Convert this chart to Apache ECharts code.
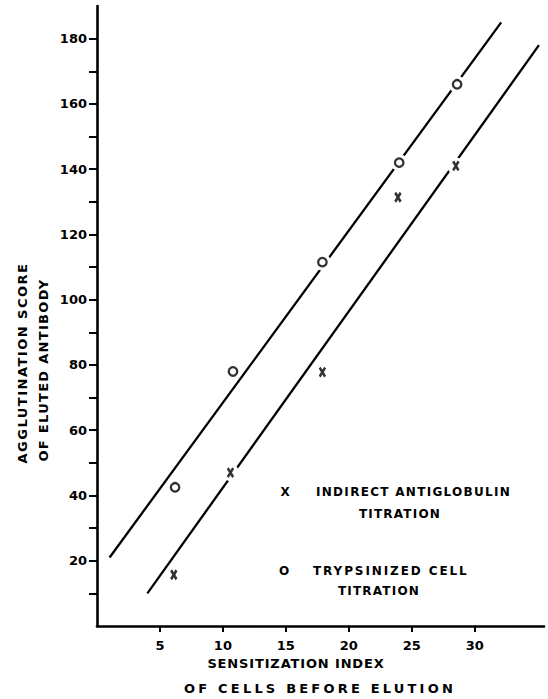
<!DOCTYPE html>
<html>
<head>
<meta charset="utf-8">
<style>html,body{margin:0;padding:0;background:#fff;}#c{width:548px;height:699px;}</style>
<script src="https://cdn.jsdelivr.net/npm/echarts@6/dist/echarts.min.js"></script>
</head>
<body>
<div id="c"></div>
<script>
// ---- data ----
var xTicks = [5, 10, 15, 20, 25, 30];
var yTicks = [10, 20, 30, 40, 50, 60, 70, 80, 90, 100, 110, 120, 130, 140, 150, 160, 170, 180];
var yLabels = [20, 40, 60, 80, 100, 120, 140, 160, 180];

// Indirect antiglobulin titration (X)
var antiglobulinX = [6.1, 10.6, 17.9, 23.9, 28.5];
var antiglobulinY = [15.7, 47, 77.8, 131.4, 141];
// Trypsinized cell titration (O)
var trypsinX = [6.2, 10.8, 17.9, 24.0, 28.6];
var trypsinY = [42.5, 78, 111.5, 142, 166];

// fitted straight lines (end points)
var trypsinLineX = [1.0, 32.1];
var trypsinLineY = [21, 185];
var antiglobulinLineX = [4.0, 35.1];
var antiglobulinLineY = [10, 178];

// points that sit on their fitted line (line is broken around them)
var antiglobulinOnLine = [1, 4];
var trypsinOnLine = [2, 3, 4];

function pairs(xs, ys) { return xs.map(function (x, i) { return [x, ys[i]]; }); }
function pick(xs, ys, idx) { return idx.map(function (i) { return [xs[i], ys[i]]; }); }

var INK = '#000';
var FONT = '"DejaVu Sans", sans-serif';

// letter spacing of the hand-lettered captions (px)
var spacing = {
  'AGGLUTINATION SCORE': 1.5,
  'OF ELUTED ANTIBODY': 1.3,
  'SENSITIZATION INDEX': 0.85,
  'OF CELLS BEFORE ELUTION': 3.2,
  'INDIRECT ANTIGLOBULIN': 1.3,
  'TITRATION': 1.2,
  'TRYPSINIZED CELL': 1.9
};

function txt(x, y, s, size, align, rot) {
  return {type: 'text', x: x, y: y, rotation: rot || 0,
    style: {text: s, font: 'bold ' + size + 'px ' + FONT, fill: INK, align: align || 'center', verticalAlign: 'middle'}};
}

var chart = echarts.init(document.getElementById('c'), null, {renderer: 'svg'});
chart.setOption({
  backgroundColor: '#fff',
  animation: false,
  grid: {left: 97, right: 4, top: 6, bottom: 73, containLabel: false},
  xAxis: {
    type: 'value', min: 0, max: 35.5,
    axisLine: {show: true, onZero: false, lineStyle: {color: INK, width: 2.6}},
    axisTick: {show: true, customValues: xTicks, length: 6, lineStyle: {color: INK, width: 2}},
    axisLabel: {customValues: xTicks, margin: 13, color: INK, fontFamily: FONT, fontWeight: 'bold', fontSize: 13},
    splitLine: {show: false}
  },
  yAxis: {
    type: 'value', min: 0, max: 190,
    axisLine: {show: true, onZero: false, lineStyle: {color: INK, width: 2.6}},
    axisTick: {show: true, customValues: yTicks, length: 8, lineStyle: {color: INK, width: 2}},
    axisLabel: {customValues: yLabels, margin: 10, color: INK, fontFamily: FONT, fontWeight: 'bold', fontSize: 13},
    splitLine: {show: false}
  },
  series: [
    {type: 'line', data: pairs(trypsinLineX, trypsinLineY), symbol: 'none', lineStyle: {color: INK, width: 2.3}, z: 2},
    {type: 'line', data: pairs(antiglobulinLineX, antiglobulinLineY), symbol: 'none', lineStyle: {color: INK, width: 2.3}, z: 2},
    // white breaks in the lines around points
    {type: 'scatter', data: pick(trypsinX, trypsinY, trypsinOnLine).concat(pick(antiglobulinX, antiglobulinY, antiglobulinOnLine)),
      symbol: 'circle', symbolSize: 17, itemStyle: {color: '#fff', opacity: 1}, z: 3, silent: true},
    {type: 'scatter', name: 'TRYPSINIZED CELL TITRATION', data: pairs(trypsinX, trypsinY),
      symbol: 'circle', symbolSize: 8.5, itemStyle: {color: '#fff', borderColor: INK, borderWidth: 2.3}, z: 4},
    {type: 'scatter', name: 'INDIRECT ANTIGLOBULIN TITRATION', data: pairs(antiglobulinX, antiglobulinY),
      symbol: 'path://M0,0L7,9M7,0L0,9', symbolSize: [7, 9], symbolKeepAspect: true,
      itemStyle: {color: 'none', borderColor: INK, borderWidth: 2.8}, z: 4}
  ],
  graphic: [
    txt(22, 363, 'AGGLUTINATION SCORE', 13, 'center', Math.PI / 2),
    txt(43, 370, 'OF ELUTED ANTIBODY', 13, 'center', Math.PI / 2),
    txt(296, 663, 'SENSITIZATION INDEX', 13),
    txt(320, 688, 'OF CELLS BEFORE ELUTION', 13),
    txt(285, 492, 'X', 12),
    txt(316, 492, 'INDIRECT ANTIGLOBULIN', 12, 'left'),
    txt(400, 514, 'TITRATION', 12),
    txt(284, 571, 'O', 12),
    txt(313, 571, 'TRYPSINIZED CELL', 12, 'left'),
    txt(379, 591, 'TITRATION', 12)
  ]
});

function applySpacing() {
  var nodes = document.querySelectorAll('#c text');
  for (var i = 0; i < nodes.length; i++) {
    var s = nodes[i].textContent;
    if (spacing.hasOwnProperty(s)) {
      nodes[i].style.letterSpacing = spacing[s] + 'px';
    }
  }
}
applySpacing();
chart.on('finished', applySpacing);
setTimeout(applySpacing, 50);
</script>
</body>
</html>
